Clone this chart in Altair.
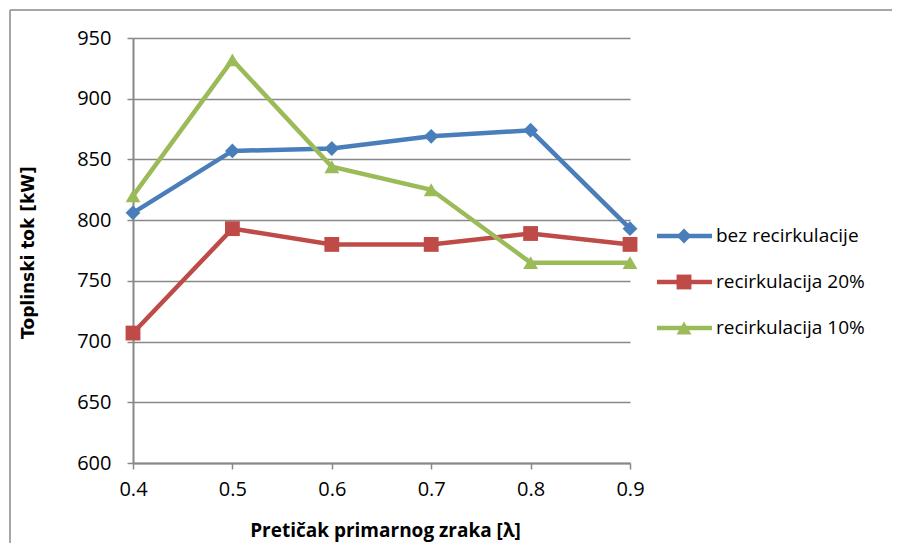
import altair as alt
import pandas as pd

# ---- data ----
x_vals = [0.4, 0.5, 0.6, 0.7, 0.8, 0.9]
series_names = ["bez recirkulacije", "recirkulacija 20%", "recirkulacija 10%"]
bez = [806, 857, 859, 869, 874, 793]
rec20 = [707, 793, 780, 780, 789, 780]
rec10 = [820, 932, 844, 825, 765, 765]
y_ticks = [600, 650, 700, 750, 800, 850, 900, 950]
colors = ["#4A7EBB", "#BE4B48", "#9BBB59"]
shapes = ["diamond", "square", "triangle-up"]

rows = []
for name, vals in zip(series_names, [bez, rec20, rec10]):
    for xv, yv in zip(x_vals, vals):
        rows.append({"x": xv, "y": yv, "series": name})
df = pd.DataFrame(rows)
leg_df = pd.DataFrame({"series": series_names, "row": list(range(len(series_names)))})
one = pd.DataFrame({"a": [0]})

FONT = "Open Sans"
GRID = "#888888"

color_scale = alt.Scale(domain=series_names, range=colors)
shape_scale = alt.Scale(domain=series_names, range=shapes)

xenc = alt.X("x:Q", scale=alt.Scale(domain=[0.4, 0.9], nice=False, zero=False),
             axis=alt.Axis(values=x_vals, format=".1f", grid=False, title="Pretičak primarnog zraka [λ]",
                           labelFontSize=20, labelFont=FONT, labelColor="#000", labelPadding=10,
                           labelFlush=False,
                           tickSize=6, tickColor=GRID, tickWidth=1.5,
                           domainColor=GRID, domainWidth=2,
                           titleFont=FONT, titleFontSize=19, titleFontWeight="bold", titleColor="#000",
                           titleX=252, titleY=67, titleBaseline="middle", titleAlign="center"))
yenc = alt.Y("y:Q", scale=alt.Scale(domain=[600, 950], nice=False, zero=False),
             axis=alt.Axis(values=y_ticks, grid=True, gridColor=GRID, gridWidth=1.5,
                           title="Toplinski tok [kW]",
                           labelFontSize=20, labelFont=FONT, labelColor="#000", labelPadding=16,
                           tickSize=6, tickColor=GRID, tickWidth=1.5,
                           domainColor=GRID, domainWidth=2,
                           titleFont="DejaVu Sans", titleFontSize=17, titleFontWeight="bold", titleColor="#000",
                           titleAngle=270, titleX=-105, titleY=214, titleBaseline="middle", titleAlign="center"))

lines = alt.Chart(df).mark_line(strokeWidth=4.5).encode(
    x=xenc, y=yenc,
    color=alt.Color("series:N", scale=color_scale, legend=None),
    detail="series:N",
)
points = alt.Chart(df).mark_point(filled=True, opacity=1, size=220).encode(
    x=xenc, y=yenc,
    color=alt.Color("series:N", scale=color_scale, legend=None),
    shape=alt.Shape("series:N", scale=shape_scale, legend=None),
)
main = alt.layer(lines, points)

leg_y = alt.Y("row:Q", scale=alt.Scale(domain=[-4.304, 4.935], reverse=True, nice=False, zero=False), axis=None)
leg_rule = alt.Chart(leg_df).mark_rule(strokeWidth=4.5).encode(
    x=alt.value(524), x2=alt.value(579), y=leg_y,
    color=alt.Color("series:N", scale=color_scale, legend=None),
)
leg_pt = alt.Chart(leg_df).mark_point(filled=True, opacity=1, size=220).encode(
    x=alt.value(551), y=leg_y,
    color=alt.Color("series:N", scale=color_scale, legend=None),
    shape=alt.Shape("series:N", scale=shape_scale, legend=None),
)
leg_txt = alt.Chart(leg_df).mark_text(align="left", baseline="middle", font=FONT, fontSize=19, color="#000").encode(
    x=alt.value(583), y=leg_y, text="series:N",
)
legend = alt.layer(leg_rule, leg_pt, leg_txt)

border_top = alt.Chart(one).mark_rule(color=GRID, strokeWidth=1.5).encode(
    x=alt.value(-123), x2=alt.value(900), y=alt.value(-28))
border_left = alt.Chart(one).mark_rule(color=GRID, strokeWidth=1.5).encode(
    x=alt.value(-123), y=alt.value(-28), y2=alt.value(520))

chart = alt.layer(border_top, border_left, main, legend).resolve_scale(y="independent").properties(
    width=497, height=425,
    autosize=alt.AutoSizeParams(type="none"),
    padding={"left": 125, "top": 30, "right": 262, "bottom": 80},
    background="white",
).configure_view(stroke=None)

chart.save("out.html", embed_options={"renderer": "svg", "actions": False})
